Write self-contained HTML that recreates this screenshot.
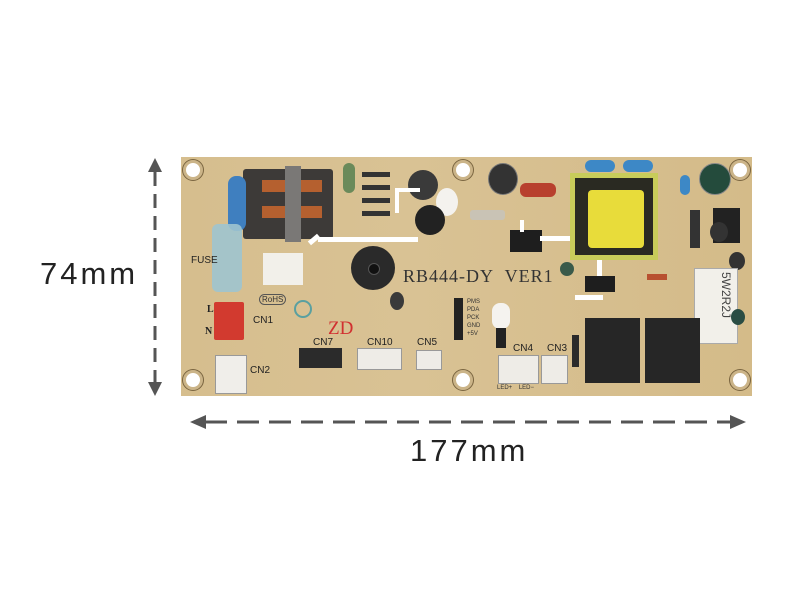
<!DOCTYPE html>
<html><head><meta charset="utf-8"><style>
body{margin:0;width:800px;height:600px;background:#fff;position:relative;overflow:hidden;font-family:"Liberation Sans",sans-serif}
.a{position:absolute}
.h{position:absolute;width:14px;height:14px;border-radius:50%;background:#fff;border:3px solid #cbb488;box-shadow:0 0 0 1px #7a6540}
.t{position:absolute;font-size:6px;color:#333}
.lbl{position:absolute;font-size:10px;color:#222}
</style></head><body>
<svg class="a" style="left:0;top:0" width="800" height="600">
<line x1="155" y1="172" x2="155" y2="383" stroke="#555" stroke-width="3" stroke-dasharray="14,8"/>
<polygon points="148,172 162,172 155,158" fill="#555"/>
<polygon points="148,382 162,382 155,396" fill="#555"/>
<line x1="205" y1="422" x2="732" y2="422" stroke="#555" stroke-width="3" stroke-dasharray="22,10"/>
<polygon points="206,415 206,429 190,422" fill="#555"/>
<polygon points="730,415 730,429 746,422" fill="#555"/>
</svg>
<div class="a" style="left:40px;top:256px;font-size:31px;color:#222;letter-spacing:3px">74mm</div>
<div class="a" style="left:410px;top:433px;font-size:31px;color:#222;letter-spacing:3px">177mm</div>
<div class="a" style="left:181px;top:157px;width:571px;height:239px;background:linear-gradient(90deg,#d6be8e,#d9c294 40%,#d4bb89);"></div>
<div class="h" style="left:183px;top:160px"></div>
<div class="h" style="left:183px;top:370px"></div>
<div class="h" style="left:453px;top:160px"></div>
<div class="h" style="left:453px;top:370px"></div>
<div class="h" style="left:730px;top:160px"></div>
<div class="h" style="left:730px;top:370px"></div>
<div class="a" style="left:243px;top:169px;width:90px;height:70px;background:#3d3a38;border-radius:3px"></div>
<div class="a" style="left:262px;top:180px;width:60px;height:12px;background:#b5602f"></div>
<div class="a" style="left:262px;top:206px;width:60px;height:12px;background:#b5602f"></div>
<div class="a" style="left:285px;top:166px;width:16px;height:76px;background:#7a7876"></div>
<div class="a" style="left:228px;top:176px;width:18px;height:55px;background:#3f7fbf;border-radius:8px"></div>
<div class="a" style="left:212px;top:224px;width:30px;height:68px;background:#9fc4cf;border-radius:6px;opacity:.9"></div>
<div class="lbl" style="left:191px;top:255px">FUSE</div>
<div class="a" style="left:343px;top:163px;width:12px;height:30px;background:#6a8a5a;border-radius:6px"></div>
<div class="a" style="left:362px;top:172px;width:28px;height:5px;background:#333"></div>
<div class="a" style="left:362px;top:185px;width:28px;height:5px;background:#333"></div>
<div class="a" style="left:362px;top:198px;width:28px;height:5px;background:#333"></div>
<div class="a" style="left:362px;top:211px;width:28px;height:5px;background:#333"></div>
<div class="a" style="left:408px;top:170px;width:30px;height:30px;border-radius:50%;background:#3a3a3a"></div>
<div class="a" style="left:436px;top:188px;width:22px;height:28px;border-radius:50%;background:#f4f2ee"></div>
<div class="a" style="left:415px;top:205px;width:30px;height:30px;border-radius:50%;background:#222"></div>
<div class="a" style="left:395px;top:188px;width:25px;height:4px;background:#fff"></div>
<div class="a" style="left:395px;top:188px;width:4px;height:25px;background:#fff"></div>
<div class="a" style="left:318px;top:237px;width:100px;height:5px;background:#fff"></div>
<div class="a" style="left:308px;top:237px;width:12px;height:5px;background:#fff;transform:rotate(-40deg)"></div>
<div class="a" style="left:263px;top:253px;width:40px;height:32px;background:#f2f0ea"></div>
<div class="a" style="left:351px;top:246px;width:44px;height:44px;border-radius:50%;background:#2a2a2a"></div>
<div class="a" style="left:368px;top:263px;width:10px;height:10px;border-radius:50%;background:#111;border:1px solid #555"></div>
<div class="a" style="left:403px;top:266px;font-family:'Liberation Serif',serif;font-size:18px;color:#333;letter-spacing:1px">RB444-DY&nbsp; VER1</div>
<div class="t" style="left:259px;top:294px;font-size:8px;border:1px solid #555;border-radius:6px;padding:0 2px">RoHS</div>
<div class="a" style="left:294px;top:300px;width:14px;height:14px;border-radius:50%;border:2px solid #5aa0a0"></div>
<div class="a" style="left:214px;top:302px;width:30px;height:38px;background:#d23a2f;border-radius:2px"></div>
<div class="lbl" style="left:207px;top:304px;font-family:'Liberation Serif',serif;font-weight:bold">L</div>
<div class="lbl" style="left:205px;top:326px;font-family:'Liberation Serif',serif;font-weight:bold">N</div>
<div class="lbl" style="left:253px;top:315px">CN1</div>
<div class="a" style="left:215px;top:355px;width:30px;height:37px;background:#f0eeea;border:1px solid #999"></div>
<div class="lbl" style="left:250px;top:365px">CN2</div>
<div class="a" style="left:328px;top:318px;font-family:'Liberation Serif',serif;font-size:19px;color:#d13030">ZD</div>
<div class="a" style="left:390px;top:292px;width:14px;height:18px;border-radius:50%;background:#3a3a3a"></div>
<div class="lbl" style="left:313px;top:337px">CN7</div>
<div class="a" style="left:299px;top:348px;width:43px;height:20px;background:#2b2b2b"></div>
<div class="lbl" style="left:367px;top:337px">CN10</div>
<div class="a" style="left:357px;top:348px;width:43px;height:20px;background:#eeece7;border:1px solid #999"></div>
<div class="lbl" style="left:417px;top:337px">CN5</div>
<div class="a" style="left:416px;top:350px;width:24px;height:18px;background:#eeece7;border:1px solid #999"></div>
<div class="a" style="left:454px;top:298px;width:9px;height:42px;background:#222"></div>
<div class="t" style="left:467px;top:298px;line-height:8px">PMS<br>PDA<br>PCK<br>GND<br>+5V</div>
<div class="a" style="left:488px;top:163px;width:28px;height:30px;border-radius:50%;background:#333;border:1px solid #777"></div>
<div class="a" style="left:520px;top:183px;width:36px;height:14px;border-radius:6px;background:#b8402e"></div>
<div class="a" style="left:470px;top:210px;width:35px;height:10px;background:#c9c3b5;border-radius:3px"></div>
<div class="a" style="left:510px;top:230px;width:32px;height:22px;background:#1e1e1e"></div>
<div class="a" style="left:520px;top:220px;width:4px;height:12px;background:#fff"></div>
<div class="a" style="left:540px;top:236px;width:30px;height:5px;background:#fff"></div>
<div class="a" style="left:570px;top:173px;width:88px;height:87px;background:#c8cc5a"></div>
<div class="a" style="left:575px;top:178px;width:78px;height:77px;background:#2a2a22"></div>
<div class="a" style="left:588px;top:190px;width:56px;height:58px;background:#e8dc3a;border-radius:4px"></div>
<div class="a" style="left:585px;top:160px;width:30px;height:12px;background:#3d88c6;border-radius:6px"></div>
<div class="a" style="left:623px;top:160px;width:30px;height:12px;background:#3d88c6;border-radius:6px"></div>
<div class="a" style="left:560px;top:262px;width:14px;height:14px;border-radius:50%;background:#3a5a4a"></div>
<div class="a" style="left:597px;top:260px;width:5px;height:28px;background:#fff"></div>
<div class="a" style="left:585px;top:276px;width:30px;height:16px;background:#1e1e1e"></div>
<div class="a" style="left:575px;top:295px;width:28px;height:5px;background:#fff"></div>
<div class="a" style="left:680px;top:175px;width:10px;height:20px;background:#3d88c6;border-radius:5px"></div>
<div class="a" style="left:699px;top:163px;width:30px;height:30px;border-radius:50%;background:#244b3c;border:1px solid #888"></div>
<div class="a" style="left:713px;top:208px;width:27px;height:35px;background:#222"></div>
<div class="a" style="left:710px;top:222px;width:18px;height:20px;border-radius:50%;background:#333"></div>
<div class="a" style="left:690px;top:210px;width:10px;height:38px;background:#333"></div>
<div class="a" style="left:729px;top:252px;width:16px;height:18px;border-radius:50%;background:#333"></div>
<div class="a" style="left:694px;top:268px;width:42px;height:74px;background:#f2f0ea;border:1px solid #aaa"></div>
<div class="a" style="left:703px;top:288px;font-size:12px;color:#444;transform:rotate(90deg)">5W2R2J</div>
<div class="a" style="left:731px;top:309px;width:14px;height:16px;border-radius:50%;background:#2a4d44"></div>
<div class="a" style="left:647px;top:274px;width:20px;height:6px;background:#b85030"></div>
<div class="a" style="left:585px;top:318px;width:55px;height:65px;background:#262626"></div>
<div class="a" style="left:645px;top:318px;width:55px;height:65px;background:#262626"></div>
<div class="a" style="left:572px;top:335px;width:7px;height:32px;background:#2a2a2a"></div>
<div class="a" style="left:492px;top:303px;width:18px;height:26px;border-radius:8px;background:#f5f3ef"></div>
<div class="a" style="left:496px;top:328px;width:10px;height:20px;background:#222"></div>
<div class="lbl" style="left:513px;top:343px">CN4</div>
<div class="a" style="left:498px;top:355px;width:39px;height:27px;background:#eeece7;border:1px solid #999"></div>
<div class="lbl" style="left:547px;top:343px">CN3</div>
<div class="a" style="left:541px;top:355px;width:25px;height:27px;background:#eeece7;border:1px solid #999"></div>
<div class="t" style="left:497px;top:385px">LED+&nbsp;&nbsp;&nbsp;&nbsp;LED−</div>
</body></html>
